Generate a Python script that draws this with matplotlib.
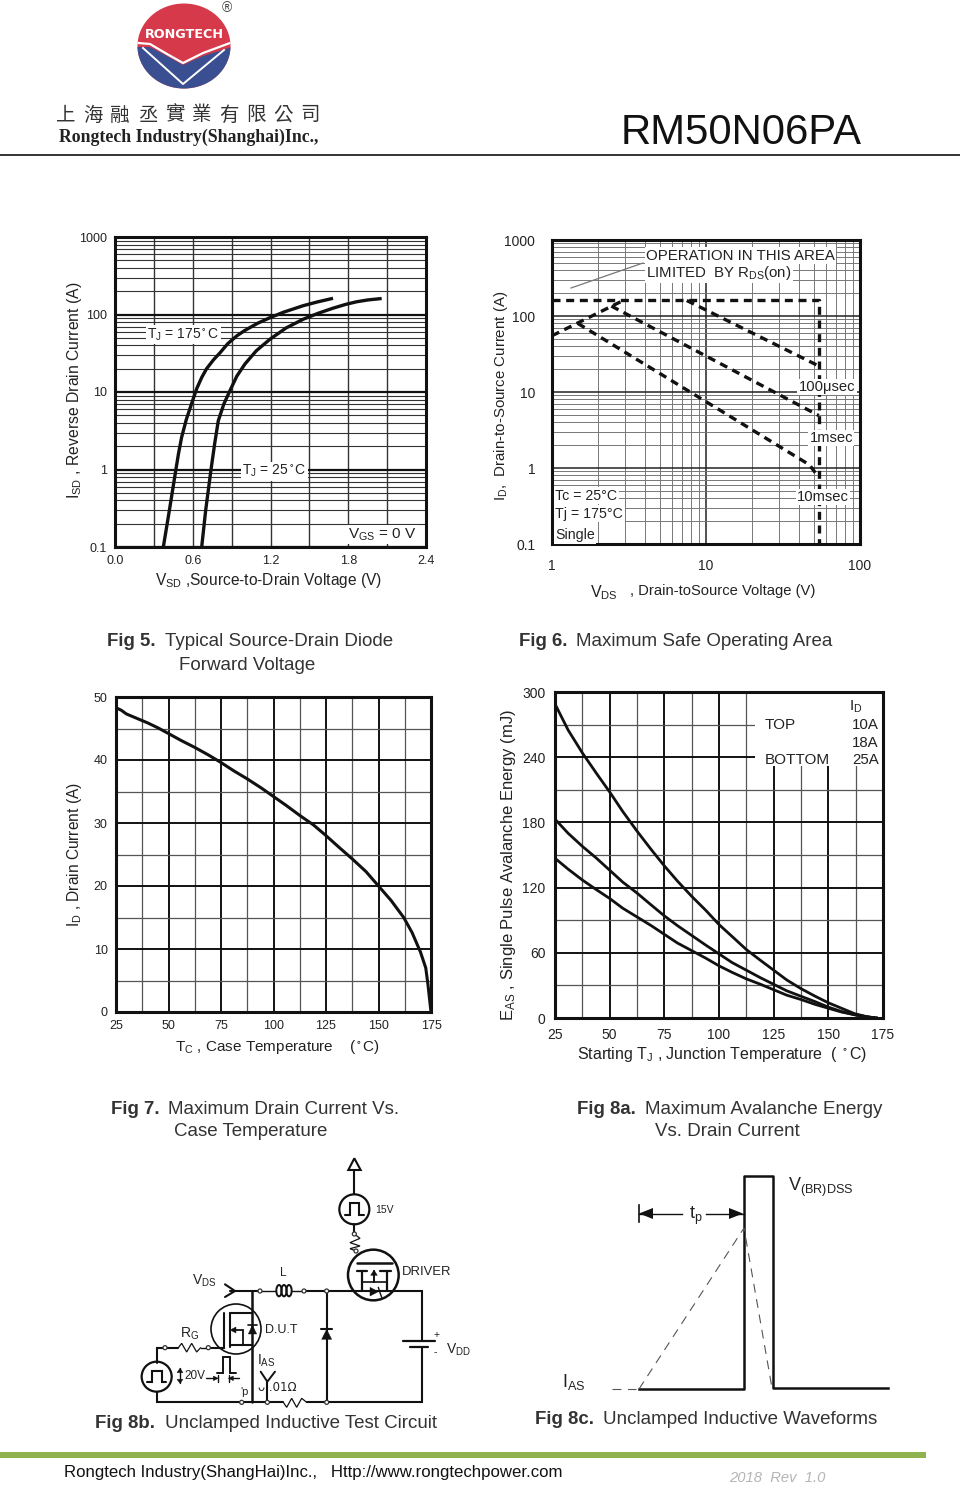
"""Datasheet page RM50N06PA: Fig 5 to Fig 8c with header and footer"""

import matplotlib
matplotlib.use('Agg')
import matplotlib.pyplot as plt
from matplotlib.patches import Circle, Ellipse, Polygon, Rectangle
from matplotlib.ticker import FixedLocator, NullFormatter

plt.rcParams['font.family'] = ['Liberation Sans', 'DejaVu Sans']
plt.rcParams['mathtext.default'] = 'regular'

W, H = 960, 1491

# Fig 5
v_175 = [.373, .42, .47, .49, .514, .55, .59, .63, .67, .707, .76, .81, .87, .94, 1.0, 1.1, 1.196, 1.3, 1.453, 1.56, 1.67]
i_175 = [.1, .3, 1, 1.6, 2.6, 4.4, 7, 11, 15.5, 20, 26, 32, 42, 53, 62, 77, 91, 107, 130, 145, 160]
v_25 = [.669, .70, .741, .77, .797, .84, .887, .94, 1.003, 1.09, 1.196, 1.32, 1.453, 1.57, 1.685, 1.78, 1.865, 1.95, 2.045]
i_25 = [.1, .3, 1, 2.2, 4.25, 7, 10.4, 16, 23, 34, 48, 67, 87, 104, 121, 135, 146, 154, 160]

# Fig 6
limit_v = [1, 54, 54]
limit_i = [160, 160, 0.1]
us100_v = [7.5, 54]
us100_i = [160, 22]
ms1_v = [1, 2.9]
ms1_i = [55, 160]
ms1b_v = [2.43, 54]
ms1b_i = [135, 4.9]
ms10_v = [1.47, 47, 54]
ms10_i = [80, 1.1, 0.75]

# Fig 7
tc = [25, 27.5, 30, 35, 40, 45, 50, 56, 62.5, 69, 75, 81, 87.5, 94, 100, 106, 112.5, 119, 125, 131, 137.5, 144, 150,
      156, 162, 166, 170, 172.5, 173.5, 175]
id_tc = [48.3, 47.9, 47.3, 46.6, 45.9, 45.1, 44.2, 43.1, 42, 40.8, 39.6, 38.3, 37, 35.6, 34.2, 32.8, 31.2, 29.7, 28,
         26.2, 24.3, 22.3, 20, 17.7, 15, 12.6, 9.5, 7, 4.5, 0]

# Fig 8a
tj = [25, 31, 37.5, 44, 50, 56, 62.5, 69, 75, 81, 87.5, 94, 100, 106, 112.5, 119, 125, 131, 137.5, 144, 150, 156, 162,
      168, 172]
eas_10a = [289, 265, 244, 225, 208, 190, 172, 155, 140, 126, 112, 99, 86, 75, 63, 53, 44, 35, 27, 20, 14, 9, 4, 1, 0]
eas_18a = [183, 170, 158, 147, 136, 125, 115, 104, 94, 85, 76, 67, 59, 51, 44, 37, 31, 25, 20, 15, 10, 6, 3, 1, 0]
eas_25a = [147, 137, 127, 118, 110, 101, 93, 85, 77, 69, 62, 55, 48, 42, 36, 31, 26, 21, 17, 12.5, 9, 5.5, 3, 1, 0]

company_cn = ['上', '海', '融', '丞', '實', '業', '有', '限', '公', '司']

fig = plt.figure(figsize=(W / 100, H / 100), dpi=100, facecolor='white')


def px_axes(l, t, r, b):
    return fig.add_axes([l / W, 1 - b / H, (r - l) / W, (b - t) / H])


def style_spines(ax, lw=2.2):
    for s in ax.spines.values():
        s.set_linewidth(lw)
        s.set_color('#111111')
    ax.set_axisbelow(True)


#Fig 5
ax = px_axes(115, 237, 426, 547)
ax.set_yscale('log')
ax.set_xlim(0, 2.4)
ax.set_ylim(0.1, 1000)
ax.set_xticks([0, .6, 1.2, 1.8, 2.4], ['0.0', '0.6', '1.2', '1.8', '2.4'])
ax.xaxis.set_minor_locator(FixedLocator([.3, .9, 1.5, 2.1]))
ax.set_yticks([.1, 1, 10, 100, 1000], ['0.1', '1', '10', '100', '1000'])
ax.yaxis.set_minor_locator(FixedLocator([k * 10.0 ** d for d in range(-1, 3) for k in range(2, 10)]))
ax.yaxis.set_minor_formatter(NullFormatter())
ax.tick_params(which='both', length=0)
ax.tick_params(axis='x', pad=6, labelsize=9, colors='#222222')
ax.tick_params(axis='y', pad=6, labelsize=9, colors='#222222')
ax.grid(True, axis='x', which='both', color='#333333', lw=1.0)
ax.grid(True, axis='y', which='minor', color='#333333', lw=0.8)
ax.grid(True, axis='y', which='major', color='#111111', lw=1.6)
style_spines(ax)
ax.plot(v_175, i_175, color='#111111', lw=2.4)
ax.plot(v_25, i_25, color='#111111', lw=2.4)
box = dict(facecolor='white', edgecolor='none', pad=1)
ax.text(0.25, 55, r'T$_J$ = 175$^\circ$C', fontsize=10, color='#222222', va='center', bbox=box)
ax.text(0.98, 0.95, r'T$_J$ = 25$^\circ$C', fontsize=10, color='#222222', va='center', bbox=box)
ax.text(1.8, 0.145, r'V$_{GS}$ = 0 V', fontsize=11, color='#222222', va='center', bbox=box)

#Fig 6
ax = px_axes(552, 240, 860, 544)
ax.set_xscale('log')
ax.set_yscale('log')
ax.set_xlim(1, 100)
ax.set_ylim(0.1, 1000)
ax.set_xticks([1, 10, 100], ['1', '10', '100'])
ax.set_yticks([.1, 1, 10, 100, 1000], ['0.1', '1', '10', '100', '1000'])
ax.xaxis.set_minor_locator(FixedLocator([k * 10.0 ** d for d in range(0, 2) for k in range(2, 10)]))
ax.yaxis.set_minor_locator(FixedLocator([k * 10.0 ** d for d in range(-1, 3) for k in range(2, 10)]))
ax.xaxis.set_minor_formatter(NullFormatter())
ax.yaxis.set_minor_formatter(NullFormatter())
ax.tick_params(which='both', length=0)
ax.tick_params(axis='x', pad=11, labelsize=10, colors='#222222')
ax.tick_params(axis='y', pad=12, labelsize=10, colors='#222222')
ax.grid(True, which='minor', color='#777777', lw=0.7)
ax.grid(True, which='major', color='#222222', lw=1.1)
style_spines(ax)
dash = dict(color='#111111', lw=2.4, dashes=(2.4, 1.7), dash_capstyle='butt')
ax.plot(limit_v, limit_i, **dash)
ax.plot(us100_v, us100_i, **dash)
ax.plot(ms1_v, ms1_i, **dash)
ax.plot(ms1b_v, ms1b_i, **dash)
ax.plot(ms10_v, ms10_i, **dash)
for x, y, s in [(1.05, .43, 'Tc = 25°C'), (1.05, .25, 'Tj = 175°C'), (1.05, .105, 'Single')]:
    ax.text(x, y, s, fontsize=10.2, color='#222222', va='bottom' if s == 'Single' else 'center', bbox=box)
for x, y, s in [(40, 11.6, '100μsec'), (47, 2.48, '1msec'), (39, .415, '10msec')]:
    ax.text(x, y, s, fontsize=10.6, color='#222222', va='center', bbox=box)
ax.text(4.07, 620, 'OPERATION IN THIS AREA', fontsize=10.8, color='#222222', va='center', bbox=box)
ax.text(4.07, 370, r'LIMITED  BY R$_{DS}$(on)', fontsize=10.8, color='#222222', va='center', bbox=box)

#Fig 7
ax = px_axes(116, 697, 431, 1012)
ax.set_xlim(25, 175)
ax.set_ylim(0, 50)
ax.set_xticks(range(25, 176, 25))
ax.set_yticks(range(0, 51, 10))
ax.xaxis.set_minor_locator(FixedLocator([37.5, 62.5, 87.5, 112.5, 137.5, 162.5]))
ax.yaxis.set_minor_locator(FixedLocator([5, 15, 25, 35, 45]))
ax.tick_params(which='both', length=0)
ax.tick_params(axis='both', pad=6, labelsize=9, colors='#222222')
ax.grid(True, which='minor', color='#555555', lw=0.9)
ax.grid(True, which='major', color='#111111', lw=1.4)
style_spines(ax)
ax.plot(tc, id_tc, color='#111111', lw=2.2)

#Fig 8a
ax = px_axes(555, 692, 883, 1018)
ax.set_xlim(25, 175)
ax.set_ylim(0, 300)
ax.set_xticks(range(25, 176, 25))
ax.set_yticks(range(0, 301, 60))
ax.xaxis.set_minor_locator(FixedLocator([37.5, 62.5, 87.5, 112.5, 137.5, 162.5]))
ax.yaxis.set_minor_locator(FixedLocator([30, 90, 150, 210, 270]))
ax.tick_params(which='both', length=0)
ax.tick_params(axis='both', pad=7, labelsize=10, colors='#222222')
ax.grid(True, which='minor', color='#555555', lw=0.9)
ax.grid(True, which='major', color='#111111', lw=1.4)
style_spines(ax)
ax.add_patch(Rectangle((116.5, 232), 58.5, 68, facecolor='white', edgecolor='none', zorder=1.5))
ax.plot(tj, eas_10a, color='#111111', lw=2.0, zorder=3)
ax.plot(tj, eas_18a, color='#111111', lw=2.0, zorder=3)
ax.plot(tj, eas_25a, color='#111111', lw=2.0, zorder=3)

# page overlay in pixel coords: header, labels, captions, footer
pg = fig.add_axes([0, 0, 1, 1], zorder=10)
pg.set_xlim(0, W)
pg.set_ylim(H, 0)
pg.axis('off')
TXT = '#222222'


def label(x, y, s, size=11, ha='left', va='center', rot=0, **kw):
    kw.setdefault('color', TXT)
    pg.text(x, y, s, fontsize=size, ha=ha, va=va, rotation=rot, **kw)


# axis labels
label(75, 390, r'I$_{SD}$ , Reverse Drain Current (A)', 11.3, ha='center', rot=90)
label(269, 581, r'V$_{SD}$ ,Source-to-Drain Voltage (V)', 11.2, ha='center')
label(501, 396, r'I$_D$,  Drain-to-Source Current (A)', 10.8, ha='center', rot=90)
label(590, 593, r'V$_{DS}$', 11.5)
label(630, 591, ', Drain-toSource Voltage (V)', 10.6)
label(75, 855, r'I$_D$ , Drain Current (A)', 11.2, ha='center', rot=90)
label(175, 1047, r'T$_C$ , Case Temperature    ($^\circ$C)', 11)
label(508, 865, r'E$_{AS}$ , Single Pulse Avalanche Energy (mJ)', 12, ha='center', rot=90)
label(577, 1054, r'Starting T$_J$ , Junction Temperature  ( $^\circ$C)', 11.5)

# Fig 8a legend
label(849, 707, r'I$_D$', 11)
label(765, 725, 'TOP', 11)
label(765, 760, 'BOTTOM', 11)
label(852, 725, '10A', 10.8)
label(852, 743, '18A', 10.8)
label(852, 760, '25A', 10.8)

# Fig 6 leader line
pg.plot([571, 643], [288, 263], color='#777777', lw=0.9)

# captions
for x, y, s in [(107, 642, 'Fig 5.'), (519, 642, 'Fig 6.'), (111, 1109, 'Fig 7.'),
                (577, 1109, 'Fig 8a.'), (95, 1424, 'Fig 8b.'), (535, 1420, 'Fig 8c.')]:
    label(x, y, s, 13.4, fontweight='bold', color='#333333')
for x, y, s in [(165, 642, 'Typical Source-Drain Diode'), (179, 665, 'Forward Voltage'),
                (576, 642, 'Maximum Safe Operating Area'),
                (168, 1109, 'Maximum Drain Current Vs.'), (174, 1131, 'Case Temperature'),
                (645, 1109, 'Maximum Avalanche Energy'), (655, 1131, 'Vs. Drain Current'),
                (165, 1424, 'Unclamped Inductive Test Circuit'),
                (603, 1420, 'Unclamped Inductive Waveforms')]:
    label(x, y, s, 13.5, color='#333333')

# header
pg.plot([0, W], [154.5, 154.5], color='#111111', lw=1.2)
label(621, 133, 'RM50N06PA', 30.2, color='#111111')
red = Ellipse((184, 46), 93, 85, facecolor='#d63a4a', edgecolor='none')
pg.add_patch(red)
blue = Polygon([(136, 47), (150, 47), (167, 56), (183, 65), (203, 56), (232, 47), (232, 92), (136, 92)],
               facecolor='#3a4f92', edgecolor='none')
pg.add_patch(blue)
blue.set_clip_path(red)
band = pg.plot([138, 150, 167, 183, 203, 230], [43, 44, 54, 63, 53, 43], color='white', lw=1.6)[0]
band.set_clip_path(red)
vee = pg.plot([143, 183, 224], [48, 84, 50], color='white', lw=1.4)[0]
vee.set_clip_path(red)
label(184, 34, 'RONGTECH', 9.2, ha='center', color='white', fontweight='bold', family=['DejaVu Sans'])
label(227, 8, '®', 10, ha='center', color='#444444')
for k, ch in enumerate(company_cn):
    label(66 + k * 27.1, 115, ch, 14, ha='center', color='#333333',
          family=['Noto Sans CJK TC', 'DejaVu Sans'], fontweight='light')
label(59, 137, 'Rongtech Industry(Shanghai)Inc.,', 12.8, color='#222222',
      family=['Liberation Serif'], fontweight='bold')

# footer
pg.add_patch(Rectangle((0, 1452), 926, 6, facecolor='#8fb24e', edgecolor='none'))
label(64, 1473, 'Rongtech Industry(ShangHai)Inc.,   Http://www.rongtechpower.com', 12.1, color='#111111')
label(729, 1478, '2018  Rev  1.0', 10.6, color='#b5b5b5', style='italic')

# Fig 8c waveform
K = '#111111'
pg.plot([639, 744, 744, 773, 773, 888], [1389, 1389, 1176, 1176, 1388, 1388], color=K, lw=1.8)
pg.plot([639, 744, 772], [1389, 1228, 1388], color='#555555', lw=0.8, dashes=(8, 6))
pg.plot([612, 636], [1389, 1389], color='#555555', lw=0.8, dashes=(8, 6))
pg.plot([639, 639], [1205, 1222], color=K, lw=1.2)
pg.plot([639, 682], [1213.5, 1213.5], color=K, lw=1)
pg.plot([706, 744], [1213.5, 1213.5], color=K, lw=1)
pg.add_patch(Polygon([(639, 1213.5), (653, 1208), (653, 1219)], facecolor=K))
pg.add_patch(Polygon([(743, 1213.5), (729, 1208), (729, 1219)], facecolor=K))
label(689, 1216, r't$_p$', 13)
label(788, 1187, r'V$_{(B R) D S S}$', 13)
label(562, 1382, r'I$_{A S}$', 13)

# Fig 8b circuit, drawn in its own coords (1 unit = 1/3 pixel)
ck = px_axes(130, 1150, 480, 1420)
ck.set_xlim(0, 1050)
ck.set_ylim(810, 0)
ck.axis('off')
ck.set_zorder(11)
ck.patch.set_alpha(0)


def wire(xs, ys, lw=1.5, col='#111111'):
    ck.plot(xs, ys, color=col, lw=lw, solid_capstyle='round', solid_joinstyle='miter')


def node(x, y):
    ck.add_patch(Circle((x, y), 6, facecolor='white', edgecolor='#333333', lw=0.9, zorder=5))


def ring(x, y, r, lw=1.6):
    ck.add_patch(Circle((x, y), r, facecolor='none', edgecolor='#111111', lw=lw))


def tri(pts):
    ck.add_patch(Polygon(pts, facecolor='#111111', edgecolor='#111111', lw=0.3))


def pulse(x, y):
    wire([x - 28, x - 13, x - 13, x + 15, x + 15, x + 28], [y + 17, y + 17, y - 18, y - 18, y + 17, y + 17], 1.5)


# supply and driver gate
ck.add_patch(Polygon([(655, 60), (692, 60), (673, 25)], facecolor='white', edgecolor='#111111', lw=1.5))
wire([673, 673], [60, 133])
ring(673, 178, 45)
pulse(673, 178)
wire([673, 673], [223, 250])
wire([673, 690, 660, 690, 660, 678], [252, 265, 278, 288, 296, 303], 0.9)
node(673, 252)
node(678, 303)
ck.text(735, 180, '15V', fontsize=7.5, color=TXT, va='center')

# driver fet
ring(730, 375, 76, 1.8)
wire([680, 785], [338, 338], 1.8)
wire([680, 712], [362, 362], 1.6)
wire([750, 782], [362, 362], 1.6)
wire([697, 697], [362, 423], 1.6)
wire([770, 770], [362, 423], 1.6)
wire([732, 732], [362, 395], 1.4)
wire([697, 770], [395, 395], 1.2)
tri([(722, 376), (742, 376), (732, 360)])
tri([(720, 412), (720, 438), (745, 425)])
wire([745, 750, 755], [412, 428, 442], 1.0)

# main loop
wire([300, 390], [423, 423])
wire([285, 315, 285], [403, 423, 441], 1.5)
wire([390, 438], [423, 423], 1.0)
wire([485, 522], [423, 423], 1.0)
wire([522, 875, 875], [423, 423, 572])
wire([875, 875, 530], [592, 757, 757])
wire([460, 80, 80], [757, 757, 725])
wire([460, 470, 485, 500, 515, 530], [757, 772, 745, 772, 745, 757], 0.9)
for x, y in [(390, 423), (522, 423), (335, 757), (412, 757), (590, 757), (590, 423)]:
    node(x, y)
for xc in [447, 462, 477]:
    ck.add_patch(Ellipse((xc, 422), 16, 34, facecolor='none', edgecolor='#111111', lw=1.4))
wire([820, 915], [572, 572], 1.6)
wire([840, 895], [592, 592], 1.6)

# free wheel diode
wire([590, 590], [423, 757])
tri([(575, 568), (605, 568), (590, 538)])
wire([573, 607], [538, 538], 1.5)

# dut
ring(318, 537, 75, 1.2)
wire([365, 365], [423, 757], 1.8)
wire([282, 282, 235], [490, 593, 593], 1.5)
wire([300, 300], [488, 590], 1.5)
wire([300, 365], [490, 490], 1.5)
wire([300, 365], [585, 585], 1.5)
wire([310, 340, 340], [540, 540, 585], 1.3)
tri([(300, 540), (318, 531), (318, 549)])
tri([(355, 552), (380, 552), (367, 525)])
wire([354, 380], [525, 525], 1.2)
wire([145, 155, 170, 185, 200, 212], [593, 580, 606, 580, 606, 593], 0.9)
wire([212, 235], [593, 593], 1)
wire([80, 80, 145], [640, 593, 593], 1.5)
node(105, 593)
node(235, 593)
ring(80, 680, 45)
pulse(80, 680)

# gate pulse notes
wire([150, 150], [655, 700], 1)
tri([(141, 668), (159, 668), (150, 655)])
tri([(141, 688), (159, 688), (150, 700)])
ck.text(162, 678, '20V', fontsize=8.5, color=TXT, va='center')
wire([260, 278, 278, 300, 300, 318], [668, 668, 622, 622, 668, 668], 1.4)
wire([228, 250], [685, 685], 1)
wire([310, 328], [685, 685], 1)
tri([(265, 685), (250, 678), (250, 692)])
tri([(295, 685), (310, 678), (310, 692)])
wire([265, 265], [675, 695], 1)
wire([296, 296], [675, 695], 1)
ck.text(331, 726, "'p", fontsize=8, color=TXT, va='center')
ck.text(383, 712, '\u1d17 .01\u03a9', fontsize=8.5, color=TXT, va='center', family=['DejaVu Sans'])
wire([392, 412, 435], [665, 695, 665], 1.4)
wire([412, 412], [695, 757], 1.5)

# circuit labels
ck.text(380, 632, r'I$_{A S}$', fontsize=10, color=TXT, va='center')
ck.text(187, 393, r'V$_{D S}$', fontsize=10, color=TXT, va='center')
ck.text(460, 370, 'L', fontsize=8.5, color=TXT, ha='center', va='center')
ck.text(150, 550, r'R$_G$', fontsize=10, color=TXT, va='center')
ck.text(405, 541, 'D.U.T', fontsize=9, color=TXT, va='center')
ck.text(817, 365, 'DRIVER', fontsize=9.4, color=TXT, va='center')
ck.text(947, 600, r'V$_{D D}$', fontsize=10, color=TXT, va='center')
ck.text(920, 555, '+', fontsize=7.5, color=TXT, ha='center', va='center')
ck.text(917, 605, '-', fontsize=7.5, color=TXT, ha='center', va='center')

fig.savefig('out.png', dpi=100)
